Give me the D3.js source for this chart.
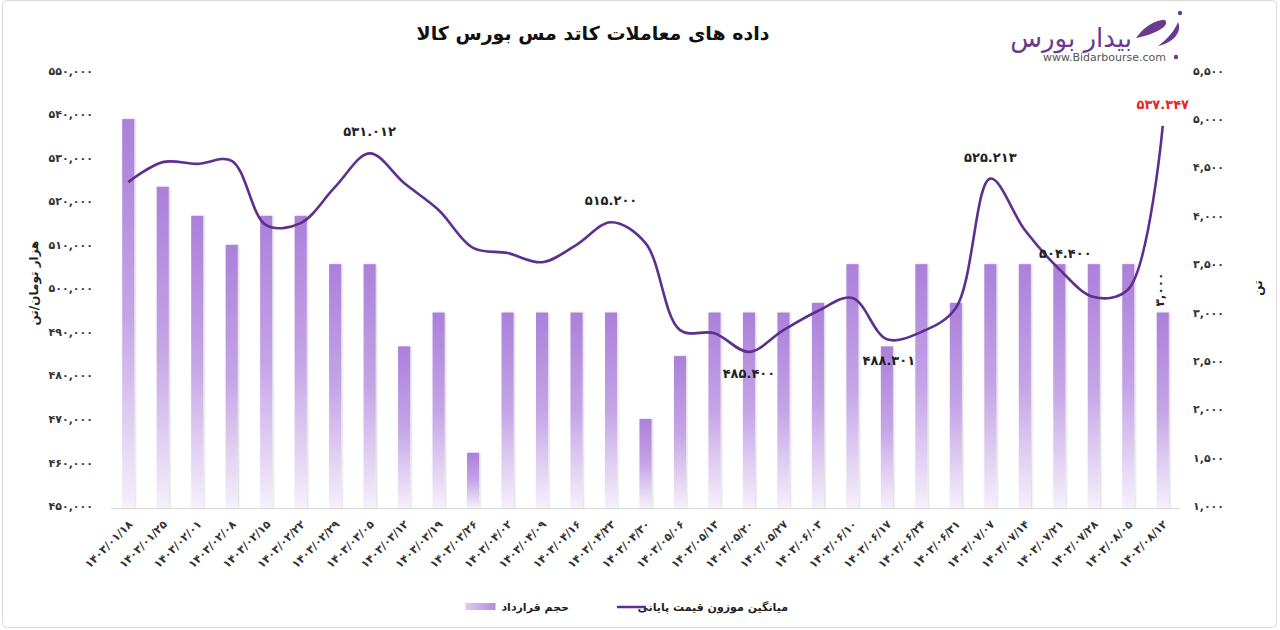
<!DOCTYPE html>
<html>
<head>
<meta charset="utf-8">
<script src="https://cdn.jsdelivr.net/npm/d3@7"></script>
<style>
  html,body{margin:0;padding:0;background:#fff;}
  svg{display:block;}
  text{font-family:"DejaVu Sans","Noto Sans",sans-serif;}
</style>
</head>
<body>
<svg id="chart" width="1280" height="630"></svg>
<script>
// ---------------- DATA ----------------
const dates = ["1403/01/18","1403/01/25","1403/02/01","1403/02/08","1403/02/15","1403/02/22","1403/02/29",
  "1403/03/05","1403/03/12","1403/03/19","1403/03/26","1403/04/02","1403/04/09","1403/04/16","1403/04/23",
  "1403/04/30","1403/05/06","1403/05/13","1403/05/20","1403/05/27","1403/06/03","1403/06/10","1403/06/17",
  "1403/06/24","1403/06/31","1403/07/07","1403/07/14","1403/07/21","1403/07/28","1403/08/05","1403/08/12"];
const volume = [5000,4300,4000,3700,4000,4000,3500,3500,2650,3000,1550,3000,3000,3000,3000,
  1900,2550,3000,3000,3000,3100,3500,2650,3500,3100,3500,3500,3500,3500,3500,3000];
const price = [524400,529000,528600,529300,514500,515000,523300,531012,524200,518000,509300,508100,506000,
  510000,515200,510400,490400,489700,485400,490400,494800,497800,488301,490000,495500,525213,513400,
  504400,498000,499800,537347];
const leftTicks = [450000,460000,470000,480000,490000,500000,510000,520000,530000,540000,550000];
const rightTicks = [1000,1500,2000,2500,3000,3500,4000,4500,5000,5500];
const priceLabels = [
  {i:7, text:"531.012", pos:"above"},
  {i:14, text:"515.200", pos:"above"},
  {i:18, text:"485.400", pos:"below"},
  {i:22, text:"488.301", pos:"below"},
  {i:25, text:"525.213", pos:"above"},
  {i:27, text:"504.400", pos:"above2"},
  {i:30, text:"537.347", pos:"above", red:true}
];
const volumeLabels = [{i:30, text:"3,000"}];
const title = "داده های معاملات کاتد مس بورس کالا";
const leftTitle = "هزار تومان/تن";
const rightTitle = "تن";
const legendBar = "حجم قرارداد";
const legendLine = "میانگین موزون قیمت پایانی";

// ---------------- HELPERS ----------------
const fa = s => String(s).replace(/[0-9]/g, d => "۰۱۲۳۴۵۶۷۸۹"[+d]);
const fmtThousands = v => fa(d3.format(",")(v));

const svg = d3.select("#chart");
const W = 1280, H = 630;

// frame
svg.append("rect").attr("x",2.5).attr("y",0.5).attr("width",W-6).attr("height",H-3)
  .attr("rx",4).attr("fill","#fff").attr("stroke","#d9d9d9").attr("stroke-width",1);

// gradient
const defs = svg.append("defs");
const g = defs.append("linearGradient").attr("id","barGrad").attr("x1",0).attr("y1",0).attr("x2",0).attr("y2",1);
g.append("stop").attr("offset","0%").attr("stop-color","#ab80da");
g.append("stop").attr("offset","50%").attr("stop-color","#c5a4e6");
g.append("stop").attr("offset","100%").attr("stop-color","#f5f0fb");
const lg = defs.append("linearGradient").attr("id","legGrad").attr("x1",0).attr("y1",0).attr("x2",1).attr("y2",0);
lg.append("stop").attr("offset","0%").attr("stop-color","#dccbef");
lg.append("stop").attr("offset","100%").attr("stop-color","#b38ade");
const f = defs.append("filter").attr("id","shadow").attr("x","-30%").attr("y","-5%").attr("width","160%").attr("height","110%");
f.append("feDropShadow").attr("dx",1).attr("dy",0).attr("stdDeviation",1).attr("flood-color","#000").attr("flood-opacity",0.18);

// ---------------- SCALES ----------------
const x = d3.scaleBand().domain(dates).range([111,1180]).paddingInner(0.65).paddingOuter(0.325);
const yL = d3.scaleLinear().domain([450000,550000]).range([506,70.7]);
const yR = d3.scaleLinear().domain([1000,5500]).range([506,70.7]);
const cx = d => x(d) + x.bandwidth()/2;

// ---------------- AXES ----------------
const axL = svg.append("g").attr("transform","translate(93,0)")
  .call(d3.axisLeft(yL).tickValues(leftTicks).tickSize(0).tickPadding(0).tickFormat(fmtThousands));
axL.select(".domain").remove();
axL.selectAll("text").attr("font-size",11).attr("font-weight","bold").attr("fill","#333").attr("x",0);

const axR = svg.append("g").attr("transform","translate(1193,0)")
  .call(d3.axisRight(yR).tickValues(rightTicks).tickSize(0).tickPadding(0).tickFormat(fmtThousands));
axR.select(".domain").remove();
axR.selectAll("text").attr("font-size",11).attr("font-weight","bold").attr("fill","#333").attr("x",0);

// axis titles
svg.append("text").attr("transform","translate(38,283) rotate(-90)").attr("text-anchor","middle")
  .attr("font-size",12).attr("font-weight","bold").attr("fill","#222").text(leftTitle);
svg.append("text").attr("transform","translate(1262,288) rotate(-90)").attr("text-anchor","middle")
  .attr("font-size",12).attr("font-weight","bold").attr("fill","#222").text(rightTitle);

// ---------------- BARS ----------------
svg.append("g").selectAll("rect").data(dates).join("rect")
  .attr("x", d => x(d))
  .attr("width", x.bandwidth())
  .attr("y", (d,i) => yR(volume[i]))
  .attr("height", (d,i) => yR(1000) - yR(volume[i]) + 2)
  .attr("fill","url(#barGrad)")
  .attr("filter","url(#shadow)");

// x axis
const axB = svg.append("g").attr("transform","translate(0,508)")
  .call(d3.axisBottom(x).tickSize(0).tickPadding(0).tickFormat(fa));
axB.select(".domain").attr("stroke","#d9d9d9").attr("d","M111,0.5H1180");
axB.selectAll("text")
  .attr("font-size",11).attr("font-weight","bold").attr("fill","#333")
  .attr("text-anchor","end").attr("dy",0).attr("y",0)
  .attr("transform","translate(5,17) rotate(-45)");

// ---------------- LINE ----------------
const line = d3.line()
  .x((d,i) => cx(dates[i]))
  .y(d => yL(d))
  .curve(d3.curveCatmullRom.alpha(0.5));
svg.append("path").datum(price).attr("d", line)
  .attr("fill","none").attr("stroke","#5f2f8e").attr("stroke-width",2.6).attr("stroke-linejoin","round");

// price labels
const offs = {above:-21, below:22, above2:-15};
svg.append("g").selectAll("text").data(priceLabels).join("text")
  .attr("x", d => cx(dates[d.i]) + (d.pos==="below" && d.i===22 ? 2 : (d.pos==="above2" ? 6 : 0)))
  .attr("y", d => yL(price[d.i]) + offs[d.pos] + 4)
  .attr("text-anchor","middle").attr("font-size",13).attr("font-weight","bold")
  .attr("fill", d => d.red ? "#e3262c" : "#222")
  .text(d => fa(d.text));

// volume labels
svg.append("g").selectAll("text").data(volumeLabels).join("text")
  .attr("transform", d => `translate(${cx(dates[d.i])+1},${yR(volume[d.i]) - 23}) rotate(-90)`)
  .attr("text-anchor","middle").attr("font-size",12).attr("font-weight","bold").attr("fill","#222")
  .text(d => fa(d.text));

// ---------------- TITLE ----------------
svg.append("text").attr("x",593).attr("y",40).attr("text-anchor","middle")
  .attr("font-size",19).attr("font-weight","bold").attr("fill","#111").text(title);

// ---------------- LEGEND ----------------
const leg = svg.append("g");
const t1 = leg.append("text").attr("x",569).attr("y",611).attr("text-anchor","end").attr("font-size",11)
  .attr("font-weight","bold").attr("fill","#222").text(legendBar);
const w1 = t1.node().getComputedTextLength();
leg.append("rect").attr("x",569 - w1 - 36).attr("y",603).attr("width",30).attr("height",7).attr("fill","url(#legGrad)");
leg.append("line").attr("x1",617).attr("x2",646).attr("y1",607).attr("y2",607).attr("stroke","#5f2f8e").attr("stroke-width",2.5);
leg.append("text").attr("x",788).attr("y",611).attr("text-anchor","end").attr("font-size",11)
  .attr("font-weight","bold").attr("fill","#222").text(legendLine);

// ---------------- LOGO ----------------
const logo = svg.append("g");
logo.append("text").attr("x",1132).attr("y",47).attr("text-anchor","end").attr("font-size",26)
  .attr("fill","#6b3a8e").text("بیدار بورس");
logo.append("text").attr("x",1043).attr("y",61).attr("font-size",11).attr("fill","#555")
  .attr("font-family","Liberation Sans, Arial").text("www.Bidarbourse.com");
logo.append("circle").attr("cx",1176).attr("cy",57).attr("r",2.2).attr("fill","#6b3a8e");
logo.append("circle").attr("cx",1180).attr("cy",13).attr("r",2.2).attr("fill","#6b3a8e");
logo.append("path").attr("fill","#6b3a8e")
  .attr("d","M1136,38 C1142,30 1150,22 1162,20 C1166,19 1168,23 1164,27 C1156,33 1146,36 1136,38 Z");
logo.append("path").attr("fill","#6b3a8e")
  .attr("d","M1158,46 C1166,40 1174,32 1178,22 C1182,30 1176,42 1158,46 Z");
</script>
</body>
</html>
